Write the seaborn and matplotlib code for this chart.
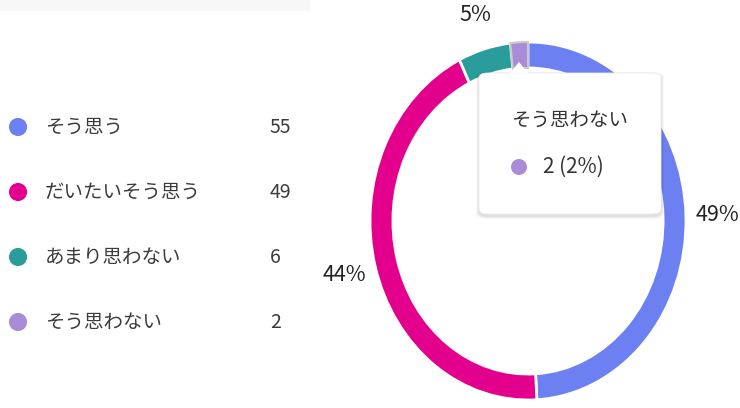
import matplotlib
matplotlib.use("Agg")
import matplotlib.pyplot as plt
import seaborn as sns
import pandas as pd
from matplotlib.patches import FancyBboxPatch, Polygon, Ellipse

# survey answers
labels = ["そう思う", "だいたいそう思う", "あまり思わない", "そう思わない"]
counts = [55, 49, 6, 2]
colors = ["#6c80f2", "#e3008c", "#2a9c9c", "#a98bd8"]

hover_idx = 3  # slice with tooltip

sns.set_theme(style="white")
plt.rcParams["font.family"] = ["Noto Sans CJK JP", "DejaVu Sans"]

total = sum(counts)
df = pd.DataFrame({"label": labels, "count": counts, "row": range(len(labels))})

W, H = 740, 408
fig = plt.figure(figsize=(W / 100, H / 100), dpi=100)

# legend on the left, drawn as a tiny scatter
lax = fig.add_axes([0, 0, 0.42, 1])
sns.scatterplot(data=df, x=[0.058] * len(df), y="row", hue="label", palette=colors,
                s=170, legend=False, ax=lax, edgecolor="none")
lax.set_xlim(0, 1)
lax.set_ylim((H - 127) / 65, -127 / 65)
lax.axis("off")
for i, r in df.iterrows():
    lax.text(0.145, r["row"], r["label"], va="center", ha="left", fontsize=14, color="#3b3b3b")
    lax.text(0.868, r["row"], str(r["count"]), va="center", ha="left", fontsize=14, color="#3b3b3b")

# donut
ax = fig.add_axes([370 / W, 8 / H, 316 / W, 358 / H])
pcts = [c / total * 100 for c in counts]
wedges, texts, autotexts = ax.pie(
    counts, colors=colors, startangle=90, counterclock=False,
    wedgeprops=dict(width=0.145, edgecolor="white", linewidth=2),
    autopct="%1.0f%%", pctdistance=1.2,
    textprops=dict(fontsize=15.5, color="#222222"),
)
ax.set_aspect("auto")
ax.set_xlim(-1, 1)
ax.set_ylim(-1, 1)
wedges[hover_idx].set_edgecolor("#c9c9c9")
wedges[hover_idx].set_linewidth(1.5)
autotexts[hover_idx].set_visible(False)

# faint header band at top left
fig.patches.append(FancyBboxPatch((0, 397 / H), 310 / W, 11 / H, boxstyle="square,pad=0",
                                  transform=fig.transFigure, fc="#f7f7f7", ec="none"))

# tooltip
x0, y0, w, h = 479 / W, (H - 214) / H, 182 / W, 141 / H
for k, a in [(3, 0.03), (2, 0.04), (1, 0.05)]:
    fig.patches.append(FancyBboxPatch((x0 - k / W, y0 - (k + 2) / H), w + 2 * k / W, h + 2 * k / H,
                                      boxstyle="round,pad=0,rounding_size=0.014",
                                      transform=fig.transFigure, fc="#000000", alpha=a, ec="none", zorder=5))
box = FancyBboxPatch((x0, y0), w, h, boxstyle="round,pad=0,rounding_size=0.012",
                     transform=fig.transFigure, fc="white", ec="#ededed", lw=0.6, zorder=6)
tip = Polygon([(510 / W, (H - 73) / H), (519 / W, (H - 62) / H), (528 / W, (H - 73) / H)],
              closed=True, transform=fig.transFigure, fc="white", ec="none", zorder=7)
fig.patches.extend([box, tip])
fig.text(511 / W, (H - 120) / H, labels[hover_idx], fontsize=14, color="#333333",
         va="center", ha="left", zorder=8)
fig.text(543 / W, (H - 167) / H, f"{counts[hover_idx]} ({pcts[hover_idx]:.0f}%)", fontsize=15,
         color="#333333", va="center", ha="left", zorder=8)
dot = Ellipse((519 / W, (H - 167) / H), 16 / W, 16 / H, transform=fig.transFigure,
              fc=colors[hover_idx], ec="none", zorder=8)
fig.patches.append(dot)

fig.savefig("out.png", dpi=100)
